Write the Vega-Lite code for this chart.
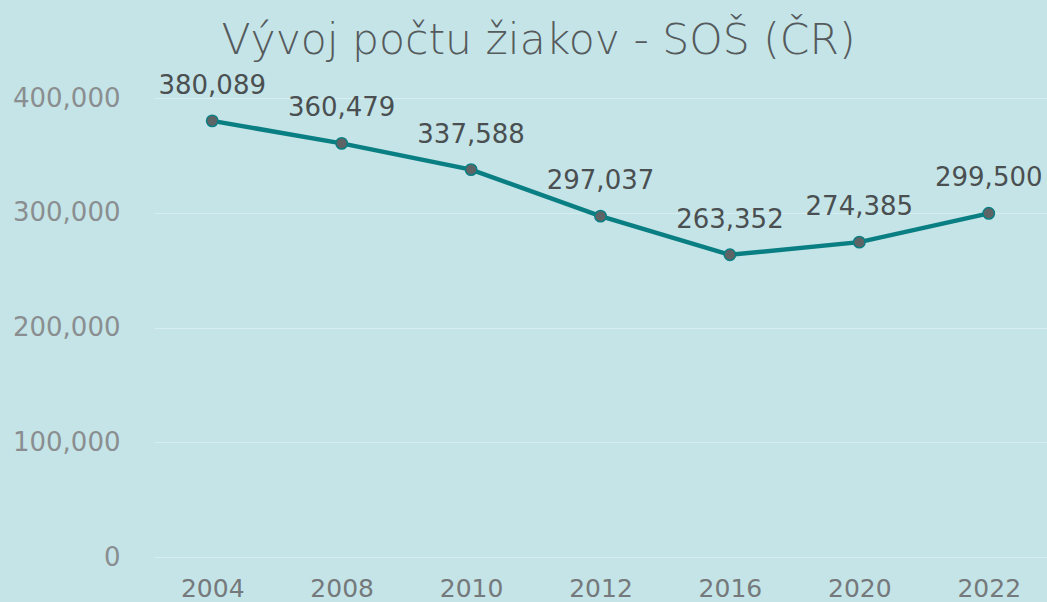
{
  "$schema": "https://vega.github.io/schema/vega-lite/v6.json",
  "autosize": {"type": "none"},
  "padding": {"left": 154, "top": 98, "right": 0, "bottom": 45},
  "width": 893,
  "height": 459,
  "background": "#c4e4e7",
  "title": {
    "text": "Vývoj počtu žiakov - SOŠ (ČR)",
    "font": "DejaVu Sans",
    "fontSize": 42.5,
    "fontWeight": 300,
    "color": "#555a5c",
    "anchor": "middle",
    "dx": -62,
    "offset": 10
  },
  "config": {
    "view": {"stroke": null},
    "axis": {"labelFont": "DejaVu Sans", "titleFont": "DejaVu Sans"}
  },
  "data": {
    "values": [
      {"year": "2004", "students": 380089},
      {"year": "2008", "students": 360479},
      {"year": "2010", "students": 337588},
      {"year": "2012", "students": 297037},
      {"year": "2016", "students": 263352},
      {"year": "2020", "students": 274385},
      {"year": "2022", "students": 299500}
    ]
  },
  "encoding": {
    "x": {
      "field": "year",
      "type": "ordinal",
      "scale": {"type": "point", "padding": 0.45},
      "axis": {
        "title": null,
        "labelAngle": 0,
        "labelFontSize": 25,
        "labelColor": "#75797b",
        "labelPadding": 19,
        "domain": false,
        "ticks": false,
        "grid": false
      }
    },
    "y": {
      "field": "students",
      "type": "quantitative",
      "scale": {"domain": [0, 400000], "nice": false},
      "axis": {
        "title": null,
        "values": [0, 100000, 200000, 300000, 400000],
        "format": ",d",
        "labelFontSize": 26,
        "labelColor": "#8a8e90",
        "labelPadding": 34,
        "domain": false,
        "ticks": false,
        "grid": true,
        "gridColor": "#d6eef0",
        "gridWidth": 1
      }
    }
  },
  "layer": [
    {
      "mark": {"type": "line", "color": "#0a7f83", "strokeWidth": 4.5}
    },
    {
      "mark": {"type": "point", "filled": true, "size": 130, "color": "#5e6365", "stroke": "#0a7f83", "strokeWidth": 1.5, "opacity": 1}
    },
    {
      "mark": {"type": "text", "dy": -35, "font": "DejaVu Sans", "fontSize": 26, "color": "#4a4f51"},
      "encoding": {"text": {"field": "students", "type": "quantitative", "format": ","}}
    }
  ]
}
